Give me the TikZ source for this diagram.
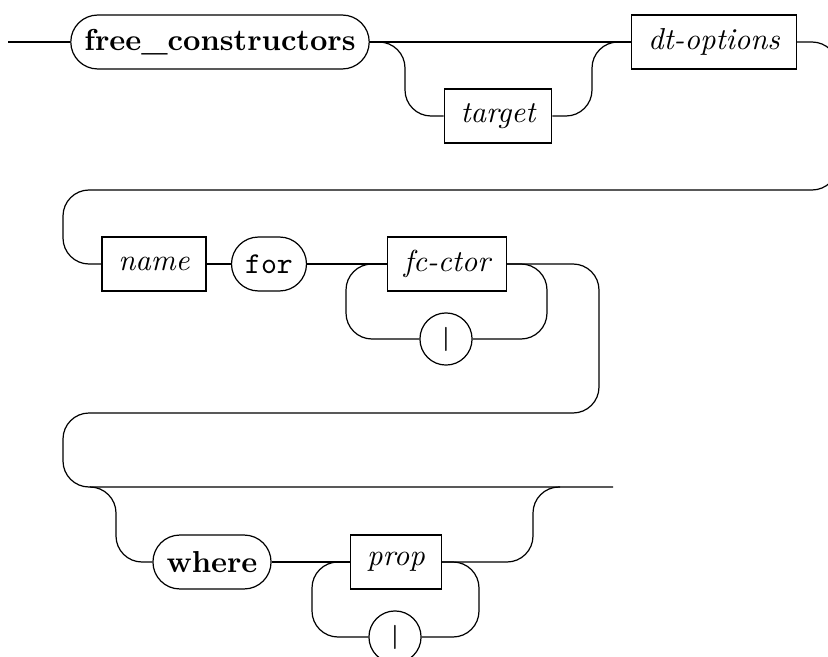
\documentclass[tikz,border=0pt]{standalone}
\usepackage{tikz}

\begin{document}
\begin{tikzpicture}[x=0.33pt,y=-0.33pt,every path/.style={thin},
    rail/.style={rounded corners=8.6pt},
    nonterm/.style={draw,rectangle,minimum height=17.8pt,inner xsep=5.4pt,font=\itshape},
    term/.style={draw,rectangle,rounded corners=8.9pt,minimum height=17.8pt,inner xsep=4.5pt},
    alt/.style={draw,circle,minimum size=17.2pt,inner sep=0pt,font=\sffamily\bfseries\footnotesize}]
          \useasboundingbox (0,0) rectangle (828,657);

          \node[term] (free) at (220,42) {\textbf{free\_constructors}};
          \node[nonterm] (target) at (498,116) {target};
          \node[nonterm] (dtopt) at (714,42) {dt-options};
          \node[nonterm] (name) at (154,264) {name};
          \node[term] (for) at (269,264) {\texttt{for}};
          \node[nonterm] (fcctor) at (447,264) {fc-ctor};
          \node[alt] (barA) at (446,339) {|};
          \node[term] (where) at (212,562) {\textbf{where}};
          \node[nonterm] (prop) at (396,562) {prop};
          \node[alt] (barB) at (395,637) {|};

          \coordinate (start) at (8,42);
          \coordinate (tgL) at (405,116);
          \coordinate (tgR) at (592,42);
          \coordinate (wrapR) at (838,42);
          \coordinate (wrapL) at (63,190);
          \coordinate (fcL) at (346,339);
          \coordinate (fcR) at (547,339);
          \coordinate (wrapRR) at (599,264);
          \coordinate (wrapLL) at (63,413);
          \coordinate (stop) at (613,487);
          \coordinate (brL) at (90,487);
          \coordinate (whL) at (116,487);
          \coordinate (whR) at (533,487);
          \coordinate (brR) at (560,487);
          \coordinate (prL) at (312,637);
          \coordinate (prR) at (479,637);

          \draw (start) -- (free.west);
          \draw (free.east) -- (dtopt.west);
          \draw[rail] (free.east) -| (tgL) -- (target.west);
          \draw[rail] (target.east) -| (tgR) -- (dtopt.west);
          \draw[rail] (dtopt.east) -- (wrapR) |- (wrapL) |- (name.west);
          \draw (name) -- (for);
          \draw (for) -- (fcctor);
          \draw[rail] (fcctor.east) -| (fcR) -- (barA.east);
          \draw[rail] (barA.west) -- (fcL) |- (fcctor.west);
          \draw[rail] (fcctor.east) -- (wrapRR) |- (wrapLL) |- (stop);
          \draw[rail] (brL) -- (whL) |- (where.west);
          \draw (where) -- (prop);
          \draw[rail] (prop.east) -| (whR) -- (brR);
          \draw[rail] (prop.east) -| (prR) -- (barB.east);
          \draw[rail] (barB.west) -- (prL) |- (prop.west);
        \end{tikzpicture}
\end{document}
